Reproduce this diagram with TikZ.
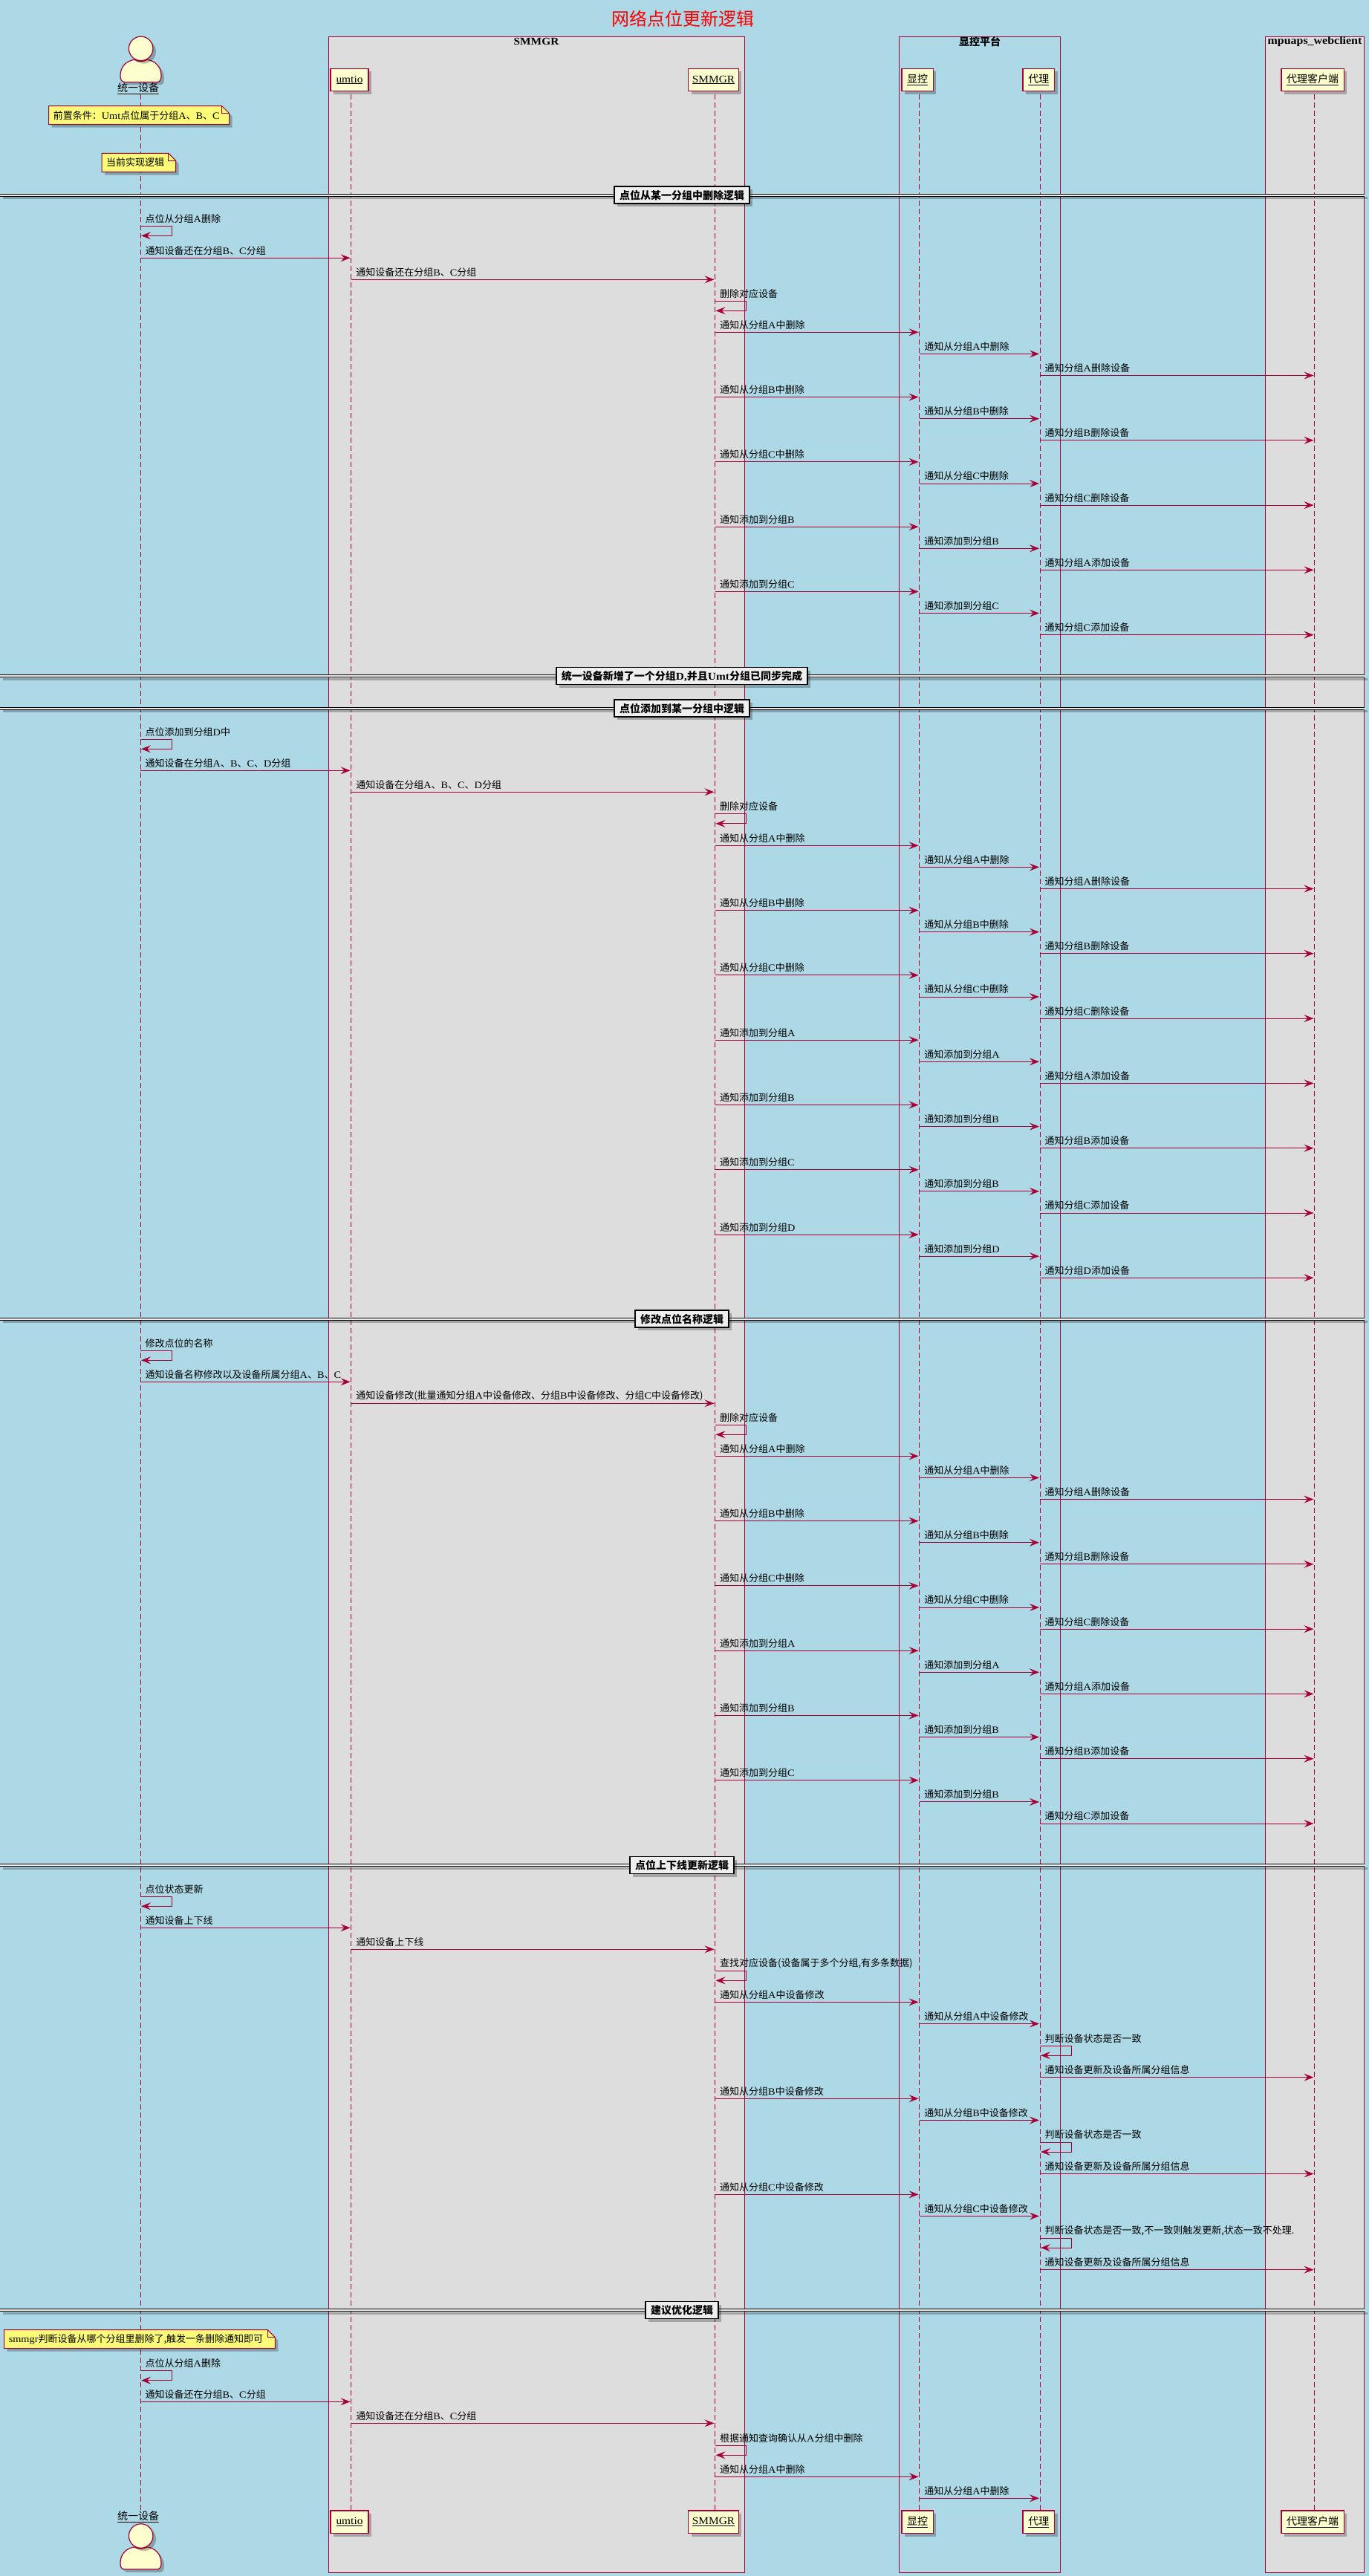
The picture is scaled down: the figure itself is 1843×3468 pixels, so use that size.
\documentclass[tikz,border=0pt]{standalone}
\usepackage{fontspec}
\setmainfont{Noto Sans CJK SC}
\newfontfamily\latfont[FakeStretch=1.1]{Liberation Serif}
\usetikzlibrary{arrows.meta,shadows,shapes.geometric}
\definecolor{skyback}{HTML}{ADD8E6}
\definecolor{umlred}{HTML}{A80036}
\definecolor{partfill}{HTML}{FEFECE}
\definecolor{notefill}{HTML}{FBFB77}
\definecolor{boxgray}{HTML}{DDDDDD}
\definecolor{splitgray}{HTML}{EEEEEE}
\newcommand{\la}[1]{{\latfont #1}} % latin letters inside the chinese labels
\newcommand{\sized}[1]{\fontsize{#1}{#1}\selectfont}
\tikzset{
    softshadow/.style={drop shadow={shadow xshift=4pt, shadow yshift=-4pt, fill=black, opacity=0.25}},
    groupbox/.style={draw=umlred, line width=0.8pt},
    grouptitle/.style={font=\sized{14}\bfseries, inner sep=0pt},
    lifeline/.style={draw=umlred, dash pattern=on 7pt off 4pt, line width=0.9pt},
    partbox/.style={
        draw=umlred, fill=partfill, line width=1.3pt, softshadow,
        minimum width={#1 pt}, minimum height=30.4pt, inner sep=0pt, font=\sized{14},
    },
    actorpart/.style={draw=umlred, fill=partfill, line width=1.2pt},
    actortext/.style={inner sep=0pt, font=\sized{14}},
    msgline/.style={draw=umlred, line width=1pt, shorten >=1pt, -{Stealth[length=13pt,width=10pt,inset=5pt]}},
    msgtext/.style={anchor=west, inner sep=0pt, font=\sized{13}},
    notepath/.style={draw=umlred, fill=notefill, line width=1pt},
    notetext/.style={anchor=west, inner sep=0pt, font=\sized{13}},
    splittext/.style={
        draw=black, fill=splitgray, line width=1.6pt, softshadow,
        inner xsep=7pt, inner ysep=0pt, minimum height=23pt, font=\sized{14}\bfseries,
    },
}
\newcounter{msgno}
% from, to, y, text
\newcommand{\msg}[4]{
    \stepcounter{msgno}
    \coordinate (m\themsgno a) at (#1line |- 0,#3);
    \coordinate (m\themsgno b) at (#2line |- 0,#3);
    \draw[msgline] (m\themsgno a) -- (m\themsgno b);
    \node[msgtext] (m\themsgno t) at ([xshift=6.5pt,yshift=10pt]m\themsgno a) {#4};
}
% who, y, text
\newcommand{\selfmsg}[3]{
    \stepcounter{msgno}
    \coordinate (m\themsgno a) at (#1line |- 0,#2);
    \coordinate (m\themsgno b) at (#1line |- 0,#2+13);
    \draw[msgline] (m\themsgno a) -- ++(42,0) -- ++(0,13) -- (m\themsgno b);
    \node[msgtext] (m\themsgno t) at ([xshift=6.5pt,yshift=10pt]m\themsgno a) {#3};
}
% smmgr -> monitor -> proxy -> client
\newcommand{\triplemsg}[4]{
    \msg{smmgr}{monitor}{#1}{#2}
    \msg{monitor}{proxy}{#1+29.1}{#3}
    \msg{proxy}{client}{#1+58.2}{#4}
}
\newcommand{\delgroups}[1]{
    \foreach \g [count=\i from 0] in {A,B,C} {
        \triplemsg{#1+87.3*\i}{通知从分组\la{\g}中删除}{通知从分组\la{\g}中删除}{通知分组\la{\g}删除设备}
    }
}
\newcommand{\addgroup}[4]{
    \triplemsg{#1}{通知添加到分组\la{#2}}{通知添加到分组\la{#3}}{通知分组\la{#4}添加设备}
}
\newcommand{\statusmsg}[3]{
    \msg{smmgr}{monitor}{#1}{通知从分组\la{#2}中设备修改}
    \msg{monitor}{proxy}{#1+29.2}{通知从分组\la{#2}中设备修改}
    \selfmsg{proxy}{#1+58.8}{#3}
    \msg{proxy}{client}{#1+101.3}{通知设备更新及设备所属分组信息}
}
% name, y, text
\newcommand{\splitline}[3]{
    \path[fill=splitgray, softshadow] (0,#2-1.5) rectangle (1837,#2+1.5);
    \coordinate (#1l) at (0,#2);
    \coordinate (#1r) at (1837,#2);
    \draw[black, line width=1pt] ([yshift=1.5pt]#1l) -- ([yshift=1.5pt]#1r);
    \draw[black, line width=1pt] ([yshift=-1.5pt]#1l) -- ([yshift=-1.5pt]#1r);
    \node[splittext] (#1) at (918,#2) {#3};
}
% name, x1, y1, x2, y2, text
\newcommand{\notebox}[6]{
    \path[notepath, softshadow] (#2,#3) -- (#4-10,#3) -- (#4,#3+10) -- (#4,#5) -- (#2,#5) -- cycle;
    \draw[umlred, line width=1pt] (#4-10,#3) -- (#4-10,#3+10) -- (#4,#3+10);
    \node[notetext] (#1) at (#2+6,#3/2+#5/2) {#6};
}
% name, label y, head centre y
\newcommand{\actorfig}[3]{
    \path[actorpart, softshadow] (167.5,#3+45) .. controls (163,#3+45) and (162,#3+41) .. (162,#3+36)
        .. controls (162,#3+24) and (171,#3+16) .. (181,#3+15)
        .. controls (185,#3+18) and (194,#3+18) .. (198,#3+15)
        .. controls (208,#3+16) and (217,#3+24) .. (217,#3+36)
        .. controls (217,#3+41) and (216,#3+45) .. (211.5,#3+45) -- cycle;
    \node[actorpart, softshadow, ellipse, minimum width=32.5pt, minimum height=32.5pt, inner sep=0pt] (#1head) at (189.7,#3) {};
    \node[actortext] (#1label) at (186,#2) {\underline{统一设备}};
}

\begin{document}
\begin{tikzpicture}[x=1pt, y=-1pt]
    \useasboundingbox (0,0) rectangle (1843,3468);
    \fill[skyback] (0,0) rectangle (1843,3468);
    \node[text=red, inner sep=0pt, font=\sized{24}] (title) at (919.5,25.5) {网络点位更新逻辑};

    % group boxes
    \path[groupbox, fill=boxgray] (442,49.3) rectangle (1002.5,3463.3);
    \path[groupbox] (1210.8,49.3) rectangle (1427.2,3463.3);
    \path[groupbox, fill=boxgray] (1703.4,49.3) rectangle (1836.7,3463.3);
    \node[grouptitle] (smmgrgroup) at (722,56) {\la{SMMGR}};
    \node[grouptitle] (monitorgroup) at (1319,56) {显控平台};
    \node[grouptitle] (clientgroup) at (1770,56) {\sized{14.5}\la{mpuaps\_webclient}};

    % lifelines
    \foreach \nm/\cx in {dev/189, umtio/472.6, smmgr/962.5, monitor/1237.6, proxy/1400, client/1769.5} {
        \coordinate (\nm line) at (\cx,127);
        \coordinate (\nm end) at (\cx,3380);
        \draw[lifeline] (\nm line) -- (\nm end);
    }

    \notebox{precond}{65.7}{142.7}{308.7}{167.7}{前置条件：\la{Umt}点位属于分组\la{A}、\la{B}、\la{C}}
    \notebox{current}{137}{206.3}{236.6}{231.7}{当前实现逻辑}

    % remove a point from one group
    \splitline{splitone}{262.7}{点位从某一分组中删除逻辑}
    \selfmsg{dev}{304.3}{点位从分组\la{A}删除}
    \msg{dev}{umtio}{347.3}{通知设备还在分组\la{B}、\la{C}分组}
    \msg{umtio}{smmgr}{376.3}{通知设备还在分组\la{B}、\la{C}分组}
    \selfmsg{smmgr}{405.3}{删除对应设备}
    \delgroups{447.3}
    \addgroup{709.2}{B}{B}{A}
    \addgroup{796.5}{C}{C}{C}

    \splitline{splittwo}{910}{统一设备新增了一个分组\la{D,}并且\la{Umt}分组已同步完成}

    % add a point to one group
    \splitline{splitthree}{953.7}{点位添加到某一分组中逻辑}
    \selfmsg{dev}{995.3}{点位添加到分组\la{D}中}
    \msg{dev}{umtio}{1037.3}{通知设备在分组\la{A}、\la{B}、\la{C}、\la{D}分组}
    \msg{umtio}{smmgr}{1066.3}{通知设备在分组\la{A}、\la{B}、\la{C}、\la{D}分组}
    \selfmsg{smmgr}{1095.8}{删除对应设备}
    \delgroups{1138.3}
    \addgroup{1400.2}{A}{A}{A}
    \addgroup{1487.5}{B}{B}{B}
    \addgroup{1574.8}{C}{B}{C}
    \addgroup{1662.1}{D}{D}{D}

    % rename a point
    \splitline{splitfour}{1775.7}{修改点位名称逻辑}
    \selfmsg{dev}{1818.3}{修改点位的名称}
    \msg{dev}{umtio}{1860.3}{通知设备名称修改以及设备所属分组\la{A}、\la{B}、\la{C}}
    \msg{umtio}{smmgr}{1889.3}{通知设备修改(批量通知分组\la{A}中设备修改、分组\la{B}中设备修改、分组\la{C}中设备修改)}
    \selfmsg{smmgr}{1918.3}{删除对应设备}
    \delgroups{1960.3}
    \addgroup{2222.2}{A}{A}{A}
    \addgroup{2309.5}{B}{B}{B}
    \addgroup{2396.8}{C}{B}{C}

    % online and offline
    \splitline{splitfive}{2511}{点位上下线更新逻辑}
    \selfmsg{dev}{2553.3}{点位状态更新}
    \msg{dev}{umtio}{2595.3}{通知设备上下线}
    \msg{umtio}{smmgr}{2624.3}{通知设备上下线}
    \selfmsg{smmgr}{2653.3}{查找对应设备(设备属于多个分组,有多条数据)}
    \statusmsg{2695.3}{A}{判断设备状态是否一致}
    \statusmsg{2825.2}{B}{判断设备状态是否一致}
    \statusmsg{2954.3}{C}{判断设备状态是否一致,不一致则触发更新,状态一致不处理.}

    % proposed logic
    \splitline{splitsix}{3110}{建议优化逻辑}
    \notebox{advice}{5.6}{3136.7}{370.4}{3161.7}{\la{smmgr}判断设备从哪个分组里删除了,触发一条删除通知即可}
    \selfmsg{dev}{3191.7}{点位从分组\la{A}删除}
    \msg{dev}{umtio}{3233.3}{通知设备还在分组\la{B}、\la{C}分组}
    \msg{umtio}{smmgr}{3262.3}{通知设备还在分组\la{B}、\la{C}分组}
    \selfmsg{smmgr}{3292.3}{根据通知查询确认从\la{A}分组中删除}
    \msg{smmgr}{monitor}{3334.3}{通知从分组\la{A}中删除}
    \msg{monitor}{proxy}{3363.3}{通知从分组\la{A}中删除}

    % participants at both ends
    \actorfig{devtop}{119}{65.4}
    \actorfig{devbot}{3388}{3414}
    \foreach \nm/\lab/\cx/\w in {umtio/\la{umtio}/470.5/51, smmgr/\la{SMMGR}/960.5/67.7, monitor/显控/1235.2/42.4, proxy/代理/1398.4/42.8, client/代理客户端/1767.2/84.3} {
        \node[partbox=\w] (\nm top) at (\cx,107.5) {\underline{\lab}};
        \node[partbox=\w] (\nm bot) at (\cx,3395.3) {\underline{\lab}};
    }
\end{tikzpicture}
\end{document}
